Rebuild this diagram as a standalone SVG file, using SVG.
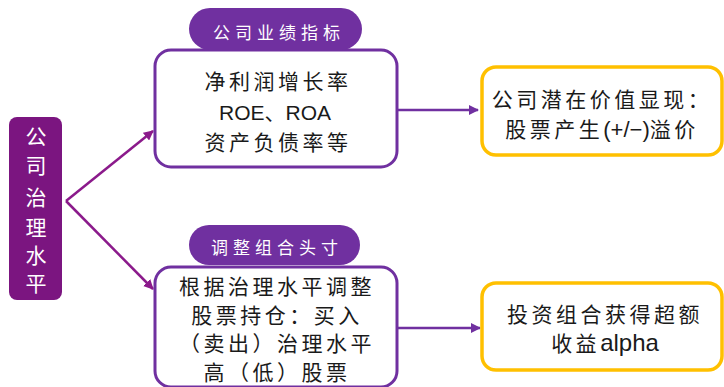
<svg xmlns="http://www.w3.org/2000/svg" width="724" height="387" viewBox="0 0 724 387">
<defs>
<style>
.cn{font-family:"Liberation Sans","Noto Sans CJK SC",sans-serif;}
.body{font-size:21px;fill:#1a1a1a;text-anchor:middle;letter-spacing:3.5px;}
.lat{letter-spacing:0;}
.pilltxt{font-size:17px;fill:#ffffff;text-anchor:middle;letter-spacing:5px;}
.vert{font-size:21px;fill:#ffffff;text-anchor:middle;}
.pbox{fill:#ffffff;stroke:#7030A0;stroke-width:3;}
.ybox{fill:#ffffff;stroke:#FFC000;stroke-width:3.5;}
.pill{fill:#7030A0;}
.conn{stroke:#8B1A8B;stroke-width:2.5;fill:none;}
.conn2{stroke:#7030A0;stroke-width:2.5;fill:none;}
</style>
<marker id="ah" viewBox="0 0 10 10" refX="9" refY="5" markerWidth="4" markerHeight="4" orient="auto" markerUnits="strokeWidth">
<path d="M0,0 L10,5 L0,10 z" fill="#8B1A8B"/>
</marker>
<marker id="ah2" viewBox="0 0 10 10" refX="9" refY="5" markerWidth="4" markerHeight="4" orient="auto" markerUnits="strokeWidth">
<path d="M0,0 L10,5 L0,10 z" fill="#7030A0"/>
</marker>
</defs>
<rect width="724" height="387" fill="#ffffff"/>
<g id="connectors">
<path class="conn" d="M66,201 L153,131" marker-end="url(#ah)"/>
<path class="conn" d="M66,201 L153,289" marker-end="url(#ah)"/>
<path class="conn2" d="M397,110 L478,110" marker-end="url(#ah2)"/>
<path class="conn2" d="M397,328 L480,328" marker-end="url(#ah2)"/>
</g>
<g id="governance">
<rect x="9" y="117" width="53" height="183" rx="8" fill="#7B1580"/>
<text class="cn vert" x="36" y="144">公</text>
<text class="cn vert" x="36" y="173">司</text>
<text class="cn vert" x="36" y="205">治</text>
<text class="cn vert" x="36" y="235">理</text>
<text class="cn vert" x="36" y="263">水</text>
<text class="cn vert" x="36" y="291">平</text>
</g>
<g id="performance">
<rect class="pbox" x="155" y="50" width="242" height="117" rx="16"/>
<text class="cn body" x="278" y="89">净利润增长率</text>
<text class="cn body lat" x="275" y="120" font-size="23">ROE、ROA</text>
<text class="cn body" x="278" y="150">资产负债率等</text>
</g>
<g id="performance-label">
<rect class="pill" x="189" y="8" width="173" height="42" rx="21"/>
<text class="cn pilltxt" x="279" y="39">公司业绩指标</text>
</g>
<g id="adjust">
<rect class="pbox" x="155" y="267" width="242" height="120" rx="16"/>
<text class="cn body" x="277" y="294">根据治理水平调整</text>
<text class="cn body" x="277" y="323">股票持仓：买入</text>
<text class="cn body" x="277" y="351">（卖出）治理水平</text>
<text class="cn body" x="277" y="380">高（低）股票</text>
</g>
<g id="adjust-label">
<rect class="pill" x="189" y="225" width="171" height="40" rx="20"/>
<text class="cn pilltxt" x="277" y="254">调整组合头寸</text>
</g>
<g id="premium">
<rect class="ybox" x="482" y="67" width="240" height="88" rx="14"/>
<text class="cn body" x="602" y="107">公司潜在价值显现：</text>
<text class="cn body" x="602" y="137">股票产生<tspan class="lat" font-size="22">(+/−)</tspan>溢价</text>
</g>
<g id="alpha">
<rect class="ybox" x="482" y="283" width="240" height="87" rx="14"/>
<text class="cn body" x="605" y="322">投资组合获得超额</text>
<text class="cn body" x="605" y="351">收益<tspan class="lat" font-size="24">alpha</tspan></text>
</g>
</svg>
